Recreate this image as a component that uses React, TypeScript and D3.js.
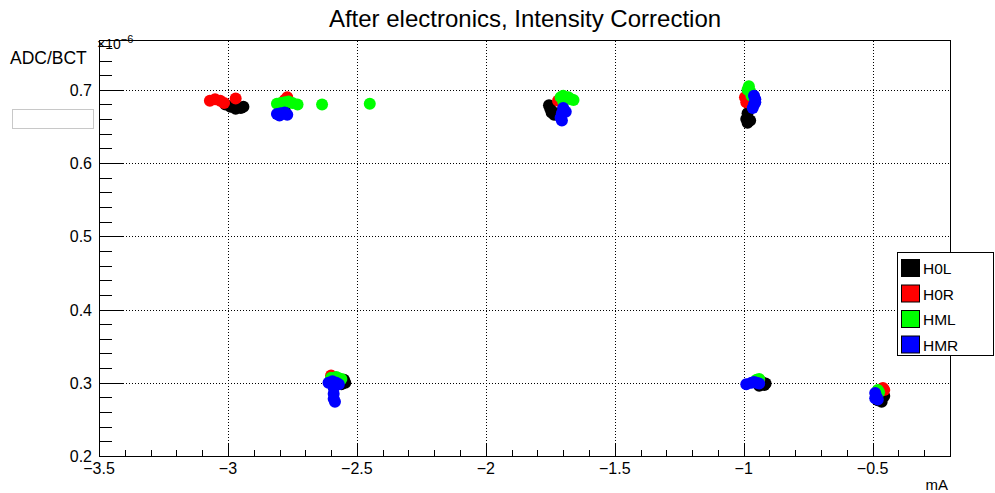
import React from 'react';
import * as d3 from 'd3';

// series values (x in mA, y in ADC/BCT * 1e-6)
const h0lX = [-3.01, -2.99, -2.97, -2.95, -2.94, -2.78, -1.755, -1.75, -1.745, -1.735, -1.725, -0.985, -0.99, -0.985, -0.975, -2.55, -2.545, -2.56, -0.93, -0.915, -0.92, -0.94, -0.46, -0.47, -0.48, -0.455, -0.465];
const h0lY = [0.680, 0.677, 0.674, 0.675, 0.677, 0.672, 0.679, 0.674, 0.669, 0.666, 0.668, 0.668, 0.660, 0.655, 0.658, 0.304, 0.300, 0.298, 0.301, 0.299, 0.297, 0.296, 0.286, 0.280, 0.276, 0.282, 0.274];

const h0rX = [-3.07, -3.05, -3.03, -3.015, -2.97, -2.77, -2.78, -1.72, -0.995, -0.99, -2.6, -2.59, -0.94, -0.46, -0.455];
const h0rY = [0.685, 0.687, 0.685, 0.682, 0.688, 0.690, 0.686, 0.685, 0.690, 0.683, 0.310, 0.307, 0.304, 0.293, 0.290];

const hmlX = [-2.81, -2.795, -2.78, -2.765, -2.75, -2.73, -2.635, -2.45, -1.71, -1.70, -1.69, -1.68, -1.67, -1.66, -1.70, -0.98, -0.975, -0.97, -0.985, -2.6, -2.58, -2.57, -2.56, -2.585, -0.94, -0.95, -0.48, -0.475];
const hmlY = [0.681, 0.682, 0.683, 0.684, 0.682, 0.680, 0.680, 0.681, 0.690, 0.692, 0.688, 0.690, 0.687, 0.686, 0.684, 0.705, 0.698, 0.692, 0.700, 0.307, 0.308, 0.306, 0.305, 0.303, 0.305, 0.304, 0.290, 0.287];

const hmrX = [-2.81, -2.795, -2.78, -2.77, -2.80, -1.70, -1.705, -1.71, -1.705, -1.69, -0.96, -0.955, -0.96, -0.965, -0.955, -2.61, -2.595, -2.58, -2.57, -2.59, -2.59, -2.59, -2.585, -0.99, -0.97, -0.96, -0.95, -0.94, -0.49, -0.485, -0.48, -0.49];
const hmrY = [0.667, 0.668, 0.669, 0.666, 0.665, 0.675, 0.668, 0.662, 0.658, 0.670, 0.692, 0.687, 0.680, 0.675, 0.683, 0.300, 0.302, 0.300, 0.298, 0.293, 0.285, 0.278, 0.274, 0.298, 0.300, 0.301, 0.300, 0.299, 0.286, 0.281, 0.277, 0.279];

const seriesNames = ['H0L', 'H0R', 'HML', 'HMR'];
const seriesColors = ['#000000', '#ff0000', '#00ff00', '#0000ff'];
const seriesData = [[h0lX, h0lY], [h0rX, h0rY], [hmlX, hmlY], [hmrX, hmrY]];

const xTicks = [-3.5, -3, -2.5, -2, -1.5, -1, -0.5];
const yTicks = [0.2, 0.3, 0.4, 0.5, 0.6, 0.7];

const W = 995, H = 493;
const margin = { left: 99, right: 45, top: 40, bottom: 37 };
const FONT = '"Liberation Sans", Arial, Helvetica, sans-serif';

const fmt = (v: number) => d3.format('~g')(v).replace('-', '\u2212');

export default function App() {
  const x = d3.scaleLinear().domain([-3.5, -0.2]).range([margin.left, W - margin.right]);
  const y = d3.scaleLinear().domain([0.2, 0.768]).range([H - margin.bottom, margin.top]);
  const [x0, x1] = x.range();
  const [y0, y1] = y.range();

  const xMinor = d3.range(-3.5, -0.2 + 1e-9, 0.1);
  const yMinor = d3.range(0.2, 0.768, 0.02);

  return (
    <svg width={W} height={H} style={{ position: 'absolute', left: 0, top: 0, background: '#fff' }} fontFamily={FONT}>
      <rect width={W} height={H} fill="#fff" />
      <text x={525} y={27} textAnchor="middle" fontSize={24}>After electronics, Intensity Correction</text>

      {/* grid */}
      <g stroke="#000" strokeWidth={1} strokeDasharray="1,2">
        {xTicks.slice(1).map(t => (
          <line key={'gx' + t} x1={Math.round(x(t)) + 0.5} x2={Math.round(x(t)) + 0.5} y1={y0} y2={y1} />
        ))}
        {yTicks.slice(1).map(t => (
          <line key={'gy' + t} x1={x0} x2={x1} y1={Math.round(y(t)) + 0.5} y2={Math.round(y(t)) + 0.5} />
        ))}
      </g>

      {/* points */}
      {seriesData.map(([xs, ys], i) => (
        <g key={seriesNames[i]} fill={seriesColors[i]}>
          {xs.map((v, j) => (
            <circle key={j} cx={x(v)} cy={y(ys[j])} r={6} />
          ))}
        </g>
      ))}

      {/* frame */}
      <rect x={x0 + 0.5} y={y1 + 0.5} width={x1 - x0} height={y0 - y1} fill="none" stroke="#000" strokeWidth={1} />

      {/* ticks */}
      <g stroke="#000" strokeWidth={1}>
        {xMinor.map(t => {
          const major = xTicks.some(m => Math.abs(m - t) < 1e-6);
          return <line key={'xt' + t} x1={Math.round(x(t)) + 0.5} x2={Math.round(x(t)) + 0.5} y1={y0} y2={y0 - (major ? 12 : 6)} />;
        })}
        {yMinor.map(t => {
          const major = yTicks.some(m => Math.abs(m - t) < 1e-6);
          return <line key={'yt' + t} x1={x0} x2={x0 + (major ? 25 : 13)} y1={Math.round(y(t)) + 0.5} y2={Math.round(y(t)) + 0.5} />;
        })}
      </g>
      <g fontSize={16} fill="#000">
        {xTicks.map(t => (
          <text key={'xl' + t} x={x(t)} y={y0 + 18} textAnchor="middle">{fmt(t)}</text>
        ))}
        {yTicks.map(t => (
          <text key={'yl' + t} x={x0 - 7} y={y(t) + 6} textAnchor="end">{fmt(t)}</text>
        ))}
      </g>
      <text x={97} y={49} fontSize={14}>×10<tspan dy={-6} fontSize={11}>−6</tspan></text>
      <text x={10} y={64} fontSize={17.5}>ADC/BCT</text>
      <text x={x1 - 2} y={490} fontSize={15} textAnchor="end">mA</text>

      {/* empty stats box */}
      <rect x={12.5} y={109.5} width={81} height={19} fill="#fff" stroke="#c8c8c8" />

      {/* legend */}
      <g>
        <rect x={897.5} y={252.5} width={96} height={103} fill="#fff" stroke="#000" />
        {seriesNames.map((n, i) => (
          <g key={n}>
            <rect x={901.5} y={259.5 + i * 25.5} width={18} height={17} fill={seriesColors[i]} stroke="#000" />
            <text x={923} y={274 + i * 25.5} fontSize={15.5}>{n}</text>
          </g>
        ))}
      </g>
    </svg>
  );
}
